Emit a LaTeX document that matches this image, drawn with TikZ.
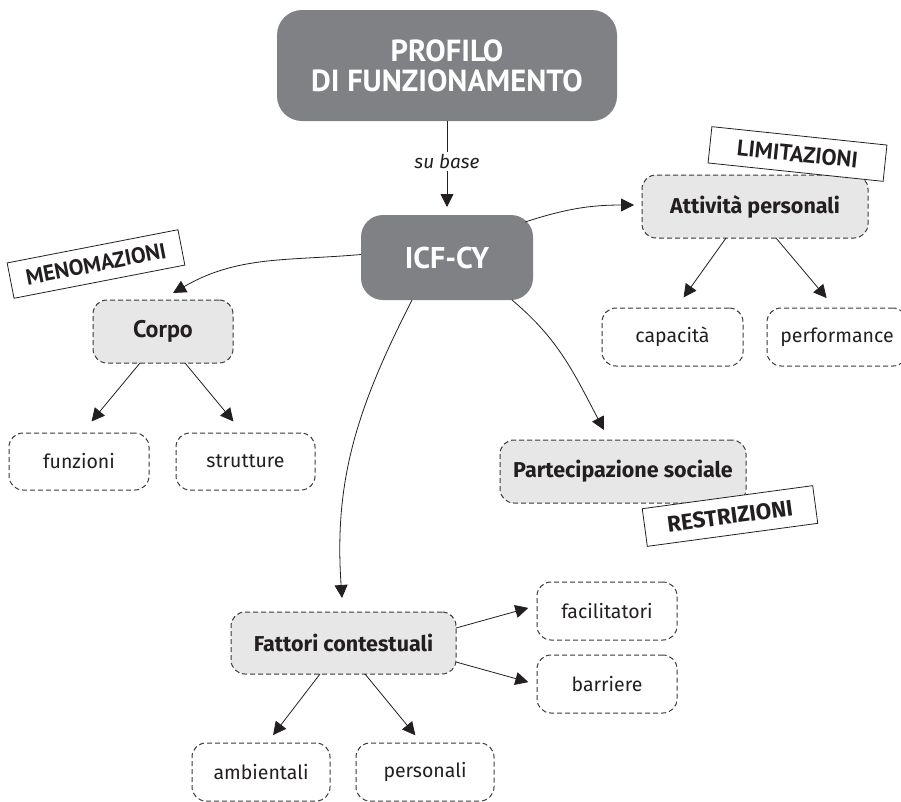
\documentclass[tikz,border=0pt]{standalone}
\usepackage{fontspec}
\setmainfont{Fira Sans}
\newfontfamily\fira{Fira Sans}
\newfontfamily\ptsans{PT Sans}
\usetikzlibrary{arrows.meta}
\definecolor{boxdark}{HTML}{808184}
\definecolor{boxlight}{HTML}{E7E7E8}
\definecolor{dashline}{HTML}{3A3A3A}
\definecolor{ink}{HTML}{231F20}
\newcommand{\fs}[1]{\fontsize{#1}{#1}\selectfont}
\tikzset{
  mainbox/.style={draw=none, fill=boxdark, text=white, inner sep=0pt, outer sep=0pt,
    align=center, font=\ptsans\bfseries},
  conceptbox/.style={draw=dashline, dash pattern=on 5pt off 3pt, line width=1pt,
    fill=boxlight, rounded corners=14pt, inner sep=0pt, outer sep=0pt, text=ink,
    font=\fira\bfseries\fs{21.5}},
  leafbox/.style={draw=dashline, dash pattern=on 5pt off 3pt, line width=1pt,
    fill=white, rounded corners=14pt, inner sep=0pt, outer sep=0pt, text=ink,
    font=\fira\fs{19.5}, minimum width=140pt, minimum height=58pt},
  tagbox/.style={draw=ink, line width=0.8pt, fill=white, inner sep=0pt, outer sep=0pt,
    text=ink},
  arr/.style={draw=ink, line width=0.8pt, -{Triangle[length=13pt,width=13pt]}},
}
\begin{document}
\begin{tikzpicture}[x=1pt, y=-1pt]
\useasboundingbox (0,0) rectangle (901,801);

% main boxes
\node[mainbox, rounded corners=25pt, minimum width=340pt, minimum height=111pt,
  font=\ptsans\bfseries\fontsize{30.5}{30}\selectfont] (profilo) at (447,65.5)
  {PROFILO\\DI FUNZIONAMENTO};
\node[mainbox, rounded corners=22pt, minimum width=172pt, minimum height=85pt,
  font=\ptsans\bfseries\fs{30}] (icf) at (447,257.5) {ICF-CY};

% concept boxes
\node[conceptbox, minimum width=140pt, minimum height=63pt, font=\ptsans\bfseries\fs{24}]
  (corpo) at (163,331.5) {Corpo};
\node[conceptbox, minimum width=226pt, minimum height=63pt] (attiv) at (755,206.5)
  {Attività personali};
\node[conceptbox, minimum width=246pt, minimum height=63pt] (partec) at (623,471.5)
  {Partecipazione sociale};
\node[conceptbox, minimum width=225pt, minimum height=62pt] (fattori) at (343.5,643)
  {Fattori contestuali};

% leaf boxes
\node[leafbox, minimum height=57pt] (funzioni) at (79,461.5) {funzioni};
\node[leafbox, minimum height=57pt, minimum width=139pt] (strutture) at (245.5,461.5) {strutture};
\node[leafbox, minimum width=141pt] (capacita) at (672.5,337) {capacità};
\node[leafbox] (perform) at (837,337) {performance};
\node[leafbox] (facil) at (607,611) {facilitatori};
\node[leafbox] (barriere) at (607,684) {barriere};
\node[leafbox, minimum width=138pt] (ambient) at (261,772) {ambientali};
\node[leafbox, minimum width=138pt] (personali) at (425,772) {personali};

% connectors
\draw[arr, shorten >=8pt] (profilo.south) -- node[fill=white, inner sep=2pt, text=ink,
  font=\fira\itshape\fs{19}, pos=0.43] (subase) {su base} (icf.north);
\draw[arr] ([yshift=3pt]icf.west) to[out=185, in=30] ([xshift=10pt, yshift=7pt]corpo.north);
\draw[arr] ([xshift=-8pt, yshift=-7pt]icf.north east) to[out=18, in=180]
  ([xshift=-8pt, yshift=1.5pt]attiv.west);
\draw[arr] ([xshift=65pt]icf.south) to[out=-40, in=118] ([xshift=-19pt, yshift=10pt]partec.north);
\draw[arr] ([xshift=-35pt]icf.south) to[out=243, in=94] ([xshift=-1.5pt, yshift=14pt]fattori.north);

\draw[arr, shorten >=15pt] ([xshift=-23pt]corpo.south) -- ([xshift=3pt]funzioni.north);
\draw[arr, shorten >=15pt] ([xshift=22pt]corpo.south) -- ([xshift=-2.5pt]strutture.north);
\draw[arr, shorten >=13pt] ([xshift=-29pt]attiv.south) -- ([xshift=3.5pt]capacita.north);
\draw[arr, shorten >=13pt] ([xshift=21pt]attiv.south) -- ([xshift=-2pt]perform.north);
\draw[arr, shorten >=9pt] ([yshift=15pt]fattori.east) -- ([yshift=5.5pt]facil.west);
\draw[arr, shorten >=9pt] ([yshift=-19pt]fattori.east) -- ([yshift=-0.5pt]barriere.west);
\draw[arr, shorten >=10pt] ([xshift=-23.5pt]fattori.south) -- ([xshift=6pt]ambient.north);
\draw[arr, shorten >=10pt] ([xshift=21.5pt]fattori.south) -- ([xshift=-3.3pt]personali.north);

% tag labels
\node[tagbox, rotate=11, minimum width=174pt, minimum height=36pt,
  font=\ptsans\bfseries\fs{22}] (menom) at (96,264) {MENOMAZIONI};
\node[tagbox, rotate=-6, minimum width=176pt, minimum height=36.5pt,
  font=\ptsans\bfseries\fs{22.5}] (limit) at (797.5,154) {LIMITAZIONI};
\node[tagbox, rotate=7.7, minimum width=172pt, minimum height=38pt,
  font=\fira\bfseries\fs{22.5}] (restr) at (730,516) {RESTRIZIONI};
\end{tikzpicture}
\end{document}
